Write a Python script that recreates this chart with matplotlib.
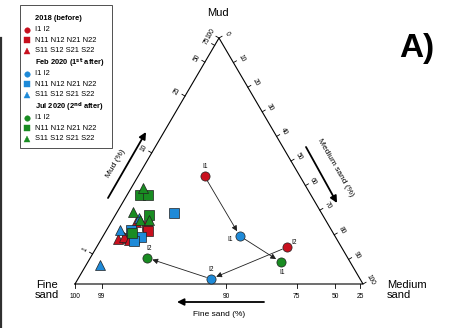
import matplotlib.pyplot as plt
import numpy as np
from matplotlib.patches import Rectangle

plt.rcParams['font.family'] = ['Liberation Sans', 'DejaVu Sans']

# axis scales of the (stretched) ternary plot
MUD_TICKS = [1, 10, 25, 50, 75, 100]
MUD_TICK_POS = [0.122, 0.533, 0.764, 0.902, 0.97, 1.0]
FINE_TICKS = [100, 99, 90, 75, 50, 25]
FINE_TICK_POS = [0.0, 0.093, 0.524, 0.77, 0.903, 0.99]
MED_TICKS = [0, 10, 20, 30, 40, 50, 60, 70, 80, 90, 100]

# samples: mud (%) and medium sand (%)
I_2018_MUD = [7.9, 1.6]
I_2018_MED = [23.2, 66.1]
N_2018_MUD = [3.5, 3.04, 2.42, 2.34]
N_2018_MED = [13.2, 14.6, 8.7, 11.4]
S_2018_MUD = [3.85, 2.34, 2.51, 2.25]
S_2018_MED = [8.6, 5.8, 7.5, 9.8]

I_FEB_MUD = [2.6, 0.17]
I_FEB_MED = [47.5, 46.2]
N_FEB_MUD = [4.66, 3.13, 2.51, 2.16]
N_FEB_MED = [19.9, 8.5, 13.4, 11.7]
S_FEB_MUD = [3.13, 4.2, 0.63]
S_FEB_MED = [4.65, 8.8, 4.8]

I_JUL_MUD = [0.73, 0.87]
I_JUL_MED = [67.0, 19.7]
N_JUL_MUD = [6.26, 6.26, 4.46, 2.86]
N_JUL_MED = [4.5, 7.3, 11.7, 9.4]
S_JUL_MUD = [6.87, 4.74, 4.02, 4.02]
S_JUL_MED = [4.1, 5.5, 9.6, 12.7]

I_NAMES = ['I1', 'I2']

RED = '#c8101e'
BLUE = '#1e8ad8'
GREEN = '#198c22'
H = np.sqrt(3) / 2


def to_xy(mud, med):
    h = np.interp(mud, [0] + MUD_TICKS, [0] + MUD_TICK_POS)
    return 0.5 * h + np.asarray(med) / 100.0, h * H


fig = plt.figure(figsize=(4.5, 3.28), dpi=100)
ax = fig.add_axes([0, 0, 1, 1])
sx = 288.0
sy = 246.0 / H
ax.set_xlim(-75 / sx, (450 - 75) / sx)
ax.set_ylim(-44 / sy, (328 - 44) / sy)
ax.axis('off')

# triangle
ax.plot([0, 0.5, 1, 0], [0, H, 0, 0], color='k', lw=0.8, zorder=1)

pt = 0.72  # points per pixel
# left axis (mud)
for v, p in zip(MUD_TICKS, MUD_TICK_POS):
    x, y = 0.5 * p, H * p
    ax.plot([x, x - 3.5 / sx * 0.866], [y, y + 3.5 / sy * 0.5], color='k', lw=0.6)
    ax.annotate(str(v), (x, y), xytext=(-9 * 0.866 * pt, 9 * 0.5 * pt), textcoords='offset points',
                ha='center', va='center', rotation=60, fontsize=4.8)
# right axis (medium sand)
for v in MED_TICKS:
    p = v / 100.0
    x, y = 0.5 + 0.5 * p, H * (1 - p)
    ax.plot([x, x + 3.5 / sx * 0.866], [y, y + 3.5 / sy * 0.5], color='k', lw=0.6)
    ax.annotate(str(v), (x, y), xytext=(9 * 0.866 * pt, 9 * 0.5 * pt), textcoords='offset points',
                ha='center', va='center', rotation=-60, fontsize=4.8)
# bottom axis (fine sand)
for v, p in zip(FINE_TICKS, FINE_TICK_POS):
    ax.plot([p, p], [0, -3.5 / sy], color='k', lw=0.6)
    ax.annotate(str(v), (p, 0), xytext=(0, -12 * pt), textcoords='offset points',
                ha='center', va='center', fontsize=4.8)

# samples
ms = 6.6
groups = [
    (N_2018_MUD, N_2018_MED, 's', RED), (S_2018_MUD, S_2018_MED, '^', RED),
    (N_FEB_MUD, N_FEB_MED, 's', BLUE), (S_FEB_MUD, S_FEB_MED, '^', BLUE),
    (N_JUL_MUD, N_JUL_MED, 's', GREEN), (S_JUL_MUD, S_JUL_MED, '^', GREEN),
    (I_2018_MUD, I_2018_MED, 'o', RED), (I_FEB_MUD, I_FEB_MED, 'o', BLUE),
    (I_JUL_MUD, I_JUL_MED, 'o', GREEN),
]
for mud, med, mk, col in groups:
    x, y = to_xy(mud, med)
    ax.plot(x, y, mk, ms=ms, mfc=col, mec='#202020', mew=0.5, ls='none', zorder=3)

# arrows between surveys
xa, ya = to_xy(I_2018_MUD, I_2018_MED)
xb, yb = to_xy(I_FEB_MUD, I_FEB_MED)
xc, yc = to_xy(I_JUL_MUD, I_JUL_MED)
for i in range(2):
    for (x0, y0), (x1, y1) in [((xa[i], ya[i]), (xb[i], yb[i])), ((xb[i], yb[i]), (xc[i], yc[i]))]:
        ax.annotate('', (x1, y1), xytext=(x0, y0),
                    arrowprops=dict(arrowstyle='-|>', color='#202020', lw=0.6,
                                    mutation_scale=8, shrinkA=3.5, shrinkB=4), zorder=2)

# point labels
lab_off = {('2018', 0): (0, 10), ('2018', 1): (7, 5), ('feb', 0): (-10, -3),
           ('feb', 1): (0, 9), ('jul', 0): (1, -10), ('jul', 1): (2, 9)}
for key, xs, ys in [('2018', xa, ya), ('feb', xb, yb), ('jul', xc, yc)]:
    for i in range(2):
        dx, dy = lab_off[(key, i)]
        ax.annotate(I_NAMES[i], (xs[i], ys[i]), xytext=(dx * pt, dy * pt), textcoords='offset points',
                    ha='center', va='center', fontsize=4.8)

# overlay in pixel coordinates for labels and legend
lay = fig.add_axes([0, 0, 1, 1])
lay.set_xlim(0, 450)
lay.set_ylim(328, 0)
lay.axis('off')
lay.patch.set_alpha(0)

lay.text(218, 13, 'Mud', ha='center', va='center', fontsize=8)
lay.text(47, 290, 'Fine\nsand', ha='center', va='center', fontsize=8, linespacing=1.05)
lay.text(387, 290, 'Medium\nsand', ha='left', va='center', fontsize=8, linespacing=1.05)
lay.text(417, 48, 'A)', ha='center', va='center', fontsize=24, fontweight='bold')

arr = dict(arrowstyle='-|>', color='k', lw=1.3, mutation_scale=10, shrinkA=0, shrinkB=0)
lay.annotate('', (146, 132), xytext=(108, 198), arrowprops=arr)
lay.text(116, 164, 'Mud (%)', ha='center', va='center', rotation=60, fontsize=6)
lay.annotate('', (337, 203), xytext=(306, 147), arrowprops=arr)
lay.text(335, 168, 'Medium sand (%)', ha='center', va='center', rotation=-60, fontsize=6)
lay.annotate('', (177, 302), xytext=(264, 302), arrowprops=arr)
lay.text(219, 315, 'Fine sand (%)', ha='center', va='center', fontsize=6)

# left edge of neighbouring panel
lay.plot([1, 1], [38, 328], color='#303030', lw=1.6)

# legend
lay.add_patch(Rectangle((20, 5), 92, 143, fill=False, ec='#505050', lw=0.7))
legend_blocks = [
    ('2018 (before)', RED),
    (r'Feb 2020 (1$^{\mathbf{st}}$ after)', BLUE),
    (r'Jul 2020 (2$^{\mathbf{nd}}$ after)', GREEN),
]
rows = [('o', 'I1 I2'), ('s', 'N11 N12 N21 N22'), ('^', 'S11 S12 S21 S22')]
for b, (title, col) in enumerate(legend_blocks):
    y0 = 19 + b * 44
    lay.text(35, y0, title, fontsize=5.4, fontweight='bold', va='center', ha='left')
    for r, (mk, txt) in enumerate(rows):
        y = y0 + 10.5 * (r + 1)
        lay.plot(27, y, mk, ms=4, mfc=col, mec=col, mew=0.3)
        lay.text(35, y, txt, fontsize=5.4, va='center', ha='left')

fig.savefig('out.png', dpi=100)
